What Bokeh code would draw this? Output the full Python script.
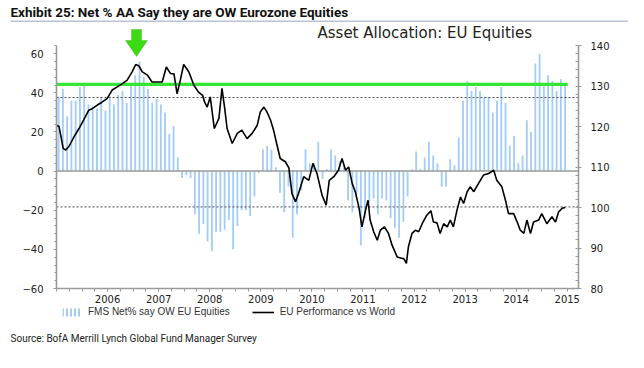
from bokeh.plotting import figure
from bokeh.models import (Range1d, LinearAxis, FixedTicker, Label, BoxAnnotation,
                          PolyAnnotation, Legend, LegendItem)
from bokeh.embed import file_html
from bokeh.resources import INLINE

# ---------------- data ----------------
# FMS: net % of asset allocators overweight Eurozone equities (monthly, Jan 2005 - Dec 2014)
fms_net_ow = [
    38, 42, 28, 36, 36, 43, 44, 34, 33, 32, 38, 31,      # 2005
    38, 34, 39, 41, 35, 45, 49, 56, 48, 42, 35, 37,      # 2006
    34, 30, 19, 23, 7, -3.5, -2, -3.5, -22, -32, -27, -36,  # 2007
    -41, -31, -31, -30, -25, -40, -28, -20, -20, -23, -13, -1,  # 2008
    11, 13, 11, 2, -11, -21, -8, -34, -22, -10, 11, 4,   # 2009
    4, 15, -4, 1, 11, 8, 5, 3, -15, -21, -12, -38,       # 2010
    -24, -16, -14, -22, -14, -15, -24, -29, -34, -26, -13, 1,  # 2011
    10, 1, 7, 15, 8, 4, -8, -8, 6, 3, 17, 36,            # 2012
    46, 41, 43, 41, 38, 38, 30, 36, 43, 35, 13, 18,      # 2013
    4, 8, 26, 20, 55, 60, 45, 49, 46, 41, 47, 45,        # 2014
]
first_year = 2005
bar_dates = [first_year + (i + 0.5) / 12 for i in range(len(fms_net_ow))]

# EU equity performance vs World (right axis)
perf_dates = [
    2005.00, 2005.05, 2005.09, 2005.13, 2005.18, 2005.24, 2005.34, 2005.44, 2005.53, 2005.63,
    2005.70, 2005.80, 2005.89, 2005.99, 2006.09, 2006.19, 2006.29, 2006.38, 2006.48, 2006.55,
    2006.61, 2006.68, 2006.78, 2006.87, 2006.97, 2007.07, 2007.15, 2007.23, 2007.30, 2007.36,
    2007.41, 2007.49, 2007.59, 2007.69, 2007.78, 2007.86, 2007.90, 2007.95, 2008.01, 2008.09,
    2008.18, 2008.24, 2008.29, 2008.34, 2008.44, 2008.54, 2008.63, 2008.73, 2008.83, 2008.93,
    2008.99, 2009.06, 2009.12, 2009.19, 2009.25, 2009.31, 2009.38, 2009.48, 2009.55, 2009.61,
    2009.68, 2009.74, 2009.84, 2009.94, 2010.02, 2010.10, 2010.20, 2010.28, 2010.34, 2010.43,
    2010.52, 2010.59, 2010.66, 2010.72, 2010.79, 2010.85, 2010.92, 2010.98, 2011.05, 2011.10,
    2011.14, 2011.21, 2011.28, 2011.34, 2011.42, 2011.50, 2011.57, 2011.67, 2011.77, 2011.80,
    2011.85, 2011.89, 2011.96, 2012.03, 2012.09, 2012.16, 2012.25, 2012.33, 2012.38, 2012.45,
    2012.51, 2012.58, 2012.65, 2012.71, 2012.77, 2012.84, 2012.91, 2012.97, 2013.04, 2013.10,
    2013.17, 2013.26, 2013.36, 2013.46, 2013.56, 2013.62, 2013.72, 2013.79, 2013.85, 2013.95,
    2014.02, 2014.08, 2014.15, 2014.21, 2014.28, 2014.34, 2014.44, 2014.50, 2014.60, 2014.70,
    2014.77, 2014.83, 2014.90, 2014.96,
]
perf_vals = [
    120.3, 120.0, 117.4, 114.6, 114.2, 115.0, 117.4, 119.5, 121.6, 124.0,
    124.4, 125.3, 126.0, 126.9, 129.0, 129.8, 130.6, 131.4, 133.5, 135.3,
    135.0, 133.5, 132.7, 131.0, 131.0, 131.0, 134.7, 133.1, 133.0, 128.1,
    130.6, 135.3, 133.5, 130.2, 128.5, 127.7, 126.0, 124.8, 127.3, 119.5,
    122.0, 129.4, 124.8, 119.5, 115.8, 118.3, 119.1, 117.0, 118.3, 120.3,
    123.6, 124.8, 123.6, 121.6, 119.1, 115.8, 112.1, 111.3, 109.8, 103.5,
    101.4, 103.5, 107.6, 106.7, 110.9, 108.4, 103.0, 100.6, 106.7, 107.6,
    109.2, 112.1, 109.2, 110.0, 105.9, 103.9, 100.1, 95.2, 99.3, 101.8,
    96.9, 94.0, 91.9, 94.4, 95.2, 93.6, 90.7, 87.8, 87.4, 87.4,
    86.2, 90.3, 93.6, 94.4, 94.0, 96.0, 98.1, 99.2, 96.4, 96.2,
    93.6, 96.0, 95.2, 96.9, 95.2, 99.3, 102.6, 101.0, 103.9, 105.1,
    103.9, 105.9, 108.0, 108.4, 109.2, 106.7, 105.1, 101.8, 98.5, 98.5,
    96.4, 94.4, 93.6, 96.9, 93.6, 96.4, 96.9, 98.5, 96.0, 97.7,
    96.4, 98.9, 99.8, 100.0,
]

year_ticks = list(range(2006, 2016))
quarter_ticks = [2005 + q / 4 for q in range(41)]
left_ticks = [-60, -40, -20, 0, 20, 40, 60]
right_ticks = [80, 90, 100, 110, 120, 130, 140]

green_level = 44.3           # highlighted current level
band_levels = [37.6, -18.3]  # +/- 1 std dev lines

title_text = "Exhibit 25: Net % AA Say they are OW Eurozone Equities"
subtitle_text = "Asset Allocation: EU Equities"
source_text = "Source: BofA Merrill Lynch Global Fund Manager Survey"
bar_label = "FMS Net% say OW EU Equities"
line_label = "EU Performance vs World"

BAR_COLOR = "#A3CDF6"
AXIS_COLOR = "#9a9a9a"
TEXT_COLOR = "#222222"

# ---------------- layout (pixels) ----------------
W, H = 628, 352
AX_L, AX_R, AX_T, AX_B = 56, 578, 45, 288      # where the axes sit on the canvas
X0, X1 = 2005.0, 2015.22                         # x span between the axes
Y0, Y1 = -60.0, 64.2                             # left axis span
R0, R1 = 80.0, 140.0                             # right axis span
ppx = (AX_R - AX_L) / (X1 - X0)
ppy = (AX_B - AX_T) / (Y1 - Y0)
ppr = (AX_B - AX_T) / (R1 - R0)

p = figure(width=W, height=H, output_backend="svg", toolbar_location=None, title=None,
           x_range=Range1d(X0 - AX_L / ppx, X1 + (W - AX_R) / ppx),
           y_range=Range1d(Y0 - (H - AX_B) / ppy, Y1 + AX_T / ppy),
           x_axis_location=None, y_axis_location=None,
           min_border=0, min_border_left=0, min_border_right=0,
           min_border_top=0, min_border_bottom=0)
p.extra_y_ranges = {"perf": Range1d(R0 - (H - AX_B) / ppr, R1 + AX_T / ppr)}
p.outline_line_color = None
for g in p.grid:
    g.visible = False
p.background_fill_color = "white"
p.border_fill_color = "white"

bars = p.vbar(x=bar_dates, top=fms_net_ow, bottom=0, width=0.036,
              fill_color=BAR_COLOR, line_color=None)

# +/- std-dev dashed lines and zero line across the plot
p.segment(x0=[X0] * len(band_levels), x1=[X1] * len(band_levels), y0=band_levels,
          y1=band_levels, line_color="#4d4d4d", line_dash="2 2", line_width=1)
p.segment(x0=[X0], x1=[X1], y0=[0], y1=[0], line_color=AXIS_COLOR, line_width=1.5)

p.segment(x0=[perf_dates[0]], x1=[perf_dates[-1] + 0.05], y0=[green_level], y1=[green_level],
          line_color="#33E633", line_width=3.2)

perf_line = p.line(perf_dates, perf_vals, y_range_name="perf", line_color="black",
                   line_width=1.6)

# legend proxy for the bars (hatched vertical strokes)
proxy = p.vbar(x=[1990], top=[1], bottom=0, width=0.1, fill_alpha=0, line_alpha=0,
               hatch_pattern="|", hatch_color=BAR_COLOR, hatch_weight=2, hatch_scale=4)

# ---------------- axes ----------------
def style_axis(ax):
    ax.axis_line_color = AXIS_COLOR
    ax.axis_line_width = 1.6
    ax.major_tick_line_color = AXIS_COLOR
    ax.minor_tick_line_color = AXIS_COLOR
    ax.major_label_text_font = "DejaVu Sans"
    ax.major_label_text_font_size = "10px"
    ax.major_label_text_color = TEXT_COLOR

left = LinearAxis(ticker=FixedTicker(ticks=left_ticks, minor_ticks=list(range(-60, 65, 4))),
                  fixed_location=X0, bounds=(Y0, Y1))
style_axis(left)
left.major_tick_out = 3
left.major_tick_in = 0
left.minor_tick_out = 2
left.minor_tick_in = 0
left.major_label_standoff = 10
p.add_layout(left, "left")

right = LinearAxis(y_range_name="perf",
                   ticker=FixedTicker(ticks=right_ticks, minor_ticks=list(range(80, 141, 2))),
                   fixed_location=X1, bounds=(R0, R1))
style_axis(right)
right.major_tick_out = 3
right.major_tick_in = 0
right.minor_tick_out = 0
right.minor_tick_in = 3
right.major_label_standoff = 9
p.add_layout(right, "right")

bottom = LinearAxis(ticker=FixedTicker(ticks=year_ticks, minor_ticks=quarter_ticks),
                    fixed_location=Y0, bounds=(X0, X1))
style_axis(bottom)
bottom.major_tick_out = 3
bottom.major_tick_in = 0
bottom.minor_tick_out = 3
bottom.minor_tick_in = 0
bottom.major_label_standoff = 3
p.add_layout(bottom, "below")

# ---------------- legend ----------------
legend = Legend(items=[LegendItem(label=bar_label, renderers=[proxy]),
                       LegendItem(label=line_label, renderers=[perf_line])],
                orientation="horizontal", location=(60, H - 317), padding=0, margin=0,
                spacing=22, glyph_width=22, glyph_height=10, label_standoff=6,
                label_text_font="Liberation Sans", label_text_font_size="10px",
                label_text_color="#333333", background_fill_alpha=0, border_line_alpha=0)
p.add_layout(legend)

# ---------------- texts ----------------
p.add_layout(Label(x=10, y=H - 11, x_units="screen", y_units="screen", text=title_text,
                   text_font="Roboto", text_font_style="bold",
                   text_font_size="13.5px", text_color="#111111", text_baseline="middle"))
p.add_layout(BoxAnnotation(left=10, right=W, bottom=H - 21.5, top=H - 20,
                           left_units="screen", right_units="screen",
                           top_units="screen", bottom_units="screen",
                           fill_color="#B9C3D3", fill_alpha=1, line_alpha=0))
p.add_layout(Label(x=317, y=H - 32, x_units="screen", y_units="screen", text=subtitle_text,
                   text_font="DejaVu Sans", text_font_size="15px",
                   text_color=TEXT_COLOR, text_baseline="middle"))
p.add_layout(Label(x=10, y=H - 338, x_units="screen", y_units="screen", text=source_text,
                   text_font="Roboto", text_font_size="10px",
                   text_color=TEXT_COLOR, text_baseline="middle"))

# green "peak" arrow above the 2006 peak bar (shape offsets in pixels)
peak_idx = fms_net_ow.index(max(fms_net_ow[:36]))
arrow_dx = [-8, 2, 2, 8, -3, -14, -8]
arrow_y = [29, 29, 40, 40, 56, 40, 40]
p.add_layout(PolyAnnotation(xs=[bar_dates[peak_idx] + dx / ppx for dx in arrow_dx],
                            ys=[H - y for y in arrow_y], xs_units="data", ys_units="screen",
                            fill_color="#3BDA12", fill_alpha=1, line_color="#249E0C",
                            line_width=1))

open("out.html", "w").write(file_html(p, INLINE))
